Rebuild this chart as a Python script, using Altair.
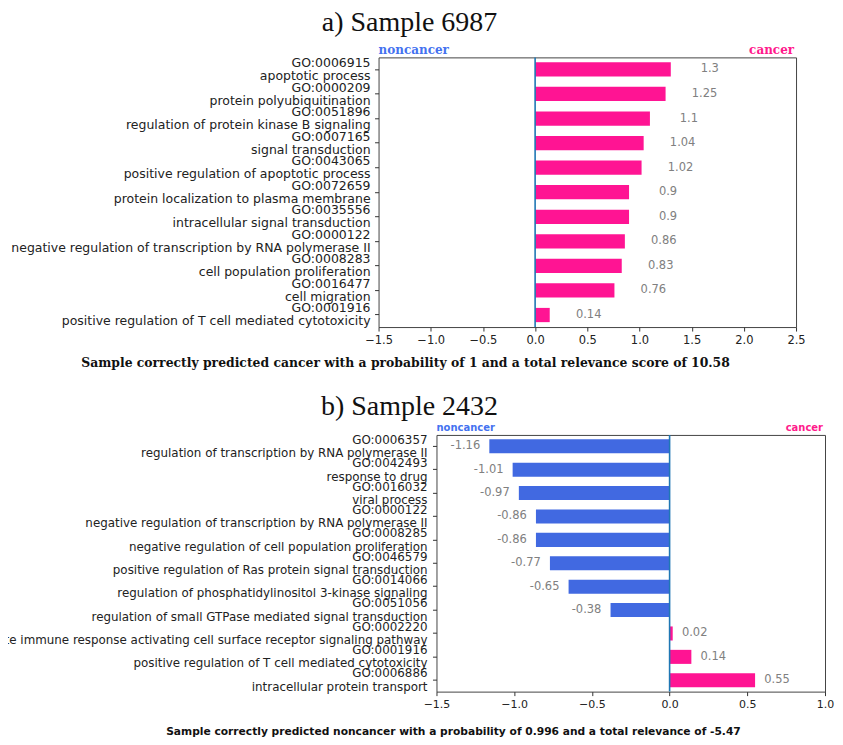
import altair as alt
import pandas as pd

# ---------------- data ----------------
a_go = ["GO:0006915", "GO:0000209", "GO:0051896", "GO:0007165", "GO:0043065",
        "GO:0072659", "GO:0035556", "GO:0000122", "GO:0008283", "GO:0016477",
        "GO:0001916"]
a_names = ["apoptotic process", "protein polyubiquitination",
           "regulation of protein kinase B signaling", "signal transduction",
           "positive regulation of apoptotic process",
           "protein localization to plasma membrane",
           "intracellular signal transduction",
           "negative regulation of transcription by RNA polymerase II",
           "cell population proliferation", "cell migration",
           "positive regulation of T cell mediated cytotoxicity"]
a_values = [1.3, 1.25, 1.1, 1.04, 1.02, 0.9, 0.9, 0.86, 0.83, 0.76, 0.14]

b_go = ["GO:0006357", "GO:0042493", "GO:0016032", "GO:0000122", "GO:0008285",
        "GO:0046579", "GO:0014066", "GO:0051056", "GO:0002220", "GO:0001916",
        "GO:0006886"]
b_names = ["regulation of transcription by RNA polymerase II", "response to drug",
           "viral process",
           "negative regulation of transcription by RNA polymerase II",
           "negative regulation of cell population proliferation",
           "positive regulation of Ras protein signal transduction",
           "regulation of phosphatidylinositol 3-kinase signaling",
           "regulation of small GTPase mediated signal transduction",
           "innate immune response activating cell surface receptor signaling pathway",
           "positive regulation of T cell mediated cytotoxicity",
           "intracellular protein transport"]
b_values = [-1.16, -1.01, -0.97, -0.86, -0.86, -0.77, -0.65, -0.38, 0.02, 0.14, 0.55]

a_ticks = [-1.5, -1.0, -0.5, 0.0, 0.5, 1.0, 1.5, 2.0, 2.5]
b_ticks = [-1.5, -1.0, -0.5, 0.0, 0.5, 1.0]

title_a = "a) Sample 6987"
title_b = "b) Sample 2432"
caption_a = "Sample correctly predicted cancer with a probability of 1 and a total relevance score of 10.58"
caption_b = "Sample correctly predicted noncancer with a probability of 0.996 and a total relevance of -5.47"
class_neg = "noncancer"
class_pos = "cancer"

PINK = "#FF1493"
BLUE = "#4169E1"
BLUE_TXT = "#4472F0"
PINK_TXT = "#FF1A8C"
GRAY = "#808080"


def make_df(go, names, values):
    return pd.DataFrame({
        "go": go,
        "name": names,
        "value": values,
        "label": [str(v) for v in values],
    })


def note(text, x, y, size, font, color, align="center", weight="normal"):
    return alt.Chart(pd.DataFrame({"t": [text]})).mark_text(
        align=align, baseline="alphabetic", fontSize=size, font=font,
        color=color, fontWeight=weight
    ).encode(x=alt.value(x), y=alt.value(y), text="t:N")


def guide(y):
    # invisible horizontal rule that fixes the extent of a row
    return alt.Chart(pd.DataFrame({"t": [0]})).mark_rule(
        opacity=0, strokeWidth=0.5
    ).encode(x=alt.value(0), x2=alt.value(1), y=alt.value(y))


def row(df, *, lab_w, lab_right, lab_size, plot_w, plot_h, domain, ticks, tick_size,
        pi, po, pos_dx, neg_dx, lab_dy, annotations):
    order = list(df["go"])
    last = order[-1]
    yscale = alt.Scale(paddingInner=pi, paddingOuter=po)

    base_lab = alt.Chart(df).encode(
        y=alt.Y("go:N", sort=order, scale=yscale, axis=None)
    )
    txt = dict(align="right", baseline="middle", fontSize=lab_size,
               font="DejaVu Sans", color="#222222")
    go_txt = base_lab.mark_text(dy=-lab_dy, clip=True, **txt).encode(
        x=alt.value(lab_right), text="go:N")
    # names: clipped at the panel edge (long ones run off the left side),
    # except the bottom one so its descenders stay visible
    nm_txt = base_lab.transform_filter(f"datum.go != '{last}'").mark_text(
        dy=lab_dy, clip=True, **txt).encode(x=alt.value(lab_right), text="name:N")
    nm_last = base_lab.transform_filter(f"datum.go == '{last}'").mark_text(
        dy=lab_dy, **txt).encode(x=alt.value(lab_right), text="name:N")
    labels = alt.layer(go_txt, nm_txt, nm_last).properties(width=lab_w, height=plot_h)

    xenc = alt.X("value:Q", scale=alt.Scale(domain=domain, nice=False, zero=False),
                 axis=alt.Axis(values=ticks, format=".1f", tickSize=4,
                               labelPadding=3, labelFontSize=tick_size,
                               labelFlush=False, labelOverlap=False,
                               title=None, domain=False))
    yenc = alt.Y("go:N", sort=order, scale=yscale,
                 axis=alt.Axis(labels=False, ticks=True, tickSize=4,
                               domain=False, title=None, bandPosition=0.5))

    base = alt.Chart(df).encode(y=yenc)
    bars = base.mark_bar().encode(
        x=xenc,
        x2=alt.datum(0),
        color=alt.condition("datum.value > 0", alt.value(PINK), alt.value(BLUE)),
    )
    zero = alt.Chart(pd.DataFrame({"z": [0]})).mark_rule(
        color="#1f77b4", strokeWidth=1.6
    ).encode(x=alt.X("z:Q"))
    pos_lab = base.transform_filter("datum.value > 0").mark_text(
        align="center", baseline="middle", fontSize=11.5, font="DejaVu Sans",
        color=GRAY, dx=pos_dx
    ).encode(x=alt.X("value:Q"), text="label:N")
    neg_lab = base.transform_filter("datum.value < 0").mark_text(
        align="center", baseline="middle", fontSize=11.5, font="DejaVu Sans",
        color=GRAY, dx=neg_dx
    ).encode(x=alt.X("value:Q"), text="label:N")

    layers = [bars, zero, pos_lab, neg_lab] + annotations
    plot = alt.layer(*layers).properties(
        width=plot_w, height=plot_h,
        view=alt.ViewBackground(stroke="#444444", strokeWidth=1),
    )
    return alt.hconcat(labels, plot, spacing=0, bounds="flush")


df_a = make_df(a_go, a_names, a_values)
df_b = make_df(b_go, b_names, b_values)

# panel a: plot area at page x 379..797, y 56..326
ann_a = [
    note(title_a, 31, -26, 28, "Liberation Serif", "#111111"),
    note(class_neg, 0, -3.5, 12, "DejaVu Serif", BLUE_TXT, align="left", weight="bold"),
    note(class_pos, 416, -3.5, 12, "DejaVu Serif", PINK_TXT, align="right", weight="bold"),
    note(caption_a, 27, 310, 12.4, "DejaVu Serif", "#111111", weight="bold"),
    guide(-56),
    guide(320),
]
row_a = row(df_a, lab_w=379, lab_right=371, lab_size=12.5, plot_w=418, plot_h=270,
            domain=[-1.5, 2.5], ticks=a_ticks, tick_size=11.5,
            pi=0.42, po=0.2, pos_dx=39, neg_dx=-39, lab_dy=6.5,
            annotations=ann_a)

# panel b: plot area at page x 437..826, y 435..692
ann_b = [
    note(title_b, -27, -20, 28, "Liberation Serif", "#111111"),
    note(class_neg, 0, -3.5, 10, "DejaVu Sans", BLUE_TXT, align="left", weight="bold"),
    note(class_pos, 387, -3.5, 10, "DejaVu Sans", PINK_TXT, align="right", weight="bold"),
    note(caption_b, 17, 300, 10.7, "DejaVu Sans", "#111111", weight="bold"),
    guide(-55),
]
row_b = row(df_b, lab_w=437, lab_right=428, lab_size=11.9, plot_w=389, plot_h=257,
            domain=[-1.5, 1.0], ticks=b_ticks, tick_size=11,
            pi=0.40, po=0.185, pos_dx=22, neg_dx=-24, lab_dy=6.7,
            annotations=ann_b)

chart = alt.vconcat(row_a, row_b, spacing=1).properties(
    padding={"left": -8, "top": -8, "right": 0, "bottom": 0}
).configure_view(strokeWidth=0).configure_axis(
    labelFont="DejaVu Sans", labelColor="#222222", tickColor="#333333",
    grid=False
)

chart.save("out.html", embed_options={"renderer": "svg", "actions": False})
